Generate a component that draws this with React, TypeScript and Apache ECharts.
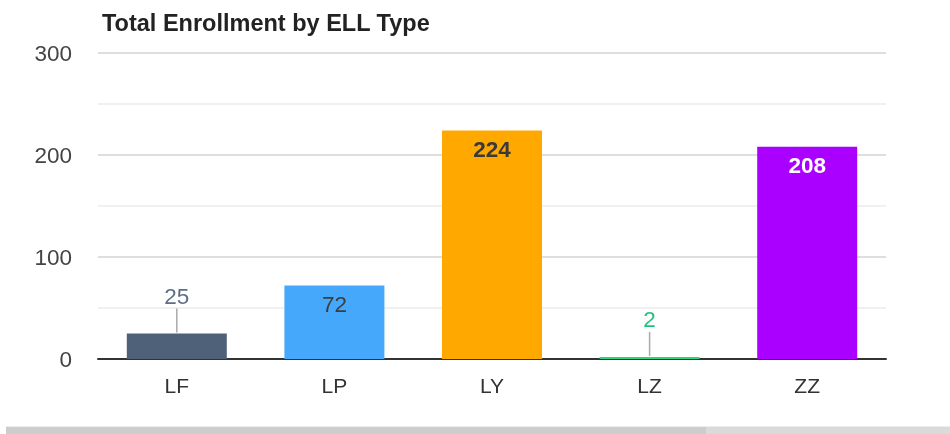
import React, { useEffect, useRef } from "react";
import * as echarts from "echarts";

const categories = ["LF", "LP", "LY", "LZ", "ZZ"];
const values = [25, 72, 224, 2, 208];
const barColors = ["#4f6178", "#45a8fb", "#ffa800", "#2ed47a", "#aa00ff"];
const labelColors = ["#5f6e84", "#3d3d3d", "#3a3a3a", "#22c27e", "#ffffff"];
const labelBold = [false, false, true, false, true];
const yTicks = [0, 100, 200, 300];
const outsideThreshold = 50;

export default function App() {
  const ref = useRef<HTMLDivElement>(null);
  useEffect(() => {
    if (!ref.current) return;
    const chart = echarts.init(ref.current, undefined, { renderer: "svg" });
    const font = "Liberation Sans, Arial, sans-serif";
    const barData = values.map((v, i) => {
      const outside = v < outsideThreshold;
      return {
        value: v,
        itemStyle: { color: barColors[i] },
        label: {
          show: true,
          position: outside ? "top" : "insideTop",
          distance: outside ? 26 : 7,
          color: labelColors[i],
          fontSize: 22.5,
          fontWeight: labelBold[i] ? "bold" : "normal",
          fontFamily: font,
        },
      };
    });
    const leaderData = values
      .map((v, i) => [i, v])
      .filter((d) => d[1] < outsideThreshold);
    chart.setOption({
      animation: false,
      title: {
        text: "Total Enrollment by ELL Type",
        left: 97,
        top: 6,
        textStyle: { fontSize: 23.5, fontWeight: "bold", color: "#222", fontFamily: font },
      },
      grid: { left: 98, right: 64, top: 53, bottom: 75, containLabel: false },
      xAxis: {
        type: "category",
        data: categories,
        axisLine: { show: true, lineStyle: { color: "#333", width: 2 } },
        axisTick: { show: false },
        axisLabel: { color: "#333", fontSize: 21, margin: 16, fontFamily: font },
      },
      yAxis: {
        type: "value",
        min: yTicks[0],
        max: yTicks[yTicks.length - 1],
        interval: 100,
        axisLine: { show: false },
        axisTick: { show: false },
        axisLabel: { color: "#444", fontSize: 22.5, margin: 26, fontFamily: font },
        splitLine: { show: true, lineStyle: { color: "#dedede", width: 2 } },
        minorTick: { show: false, splitNumber: 2 },
        minorSplitLine: { show: true, lineStyle: { color: "#f0f0f0", width: 2 } },
      },
      series: [
        {
          type: "bar",
          data: barData,
          barWidth: 100,
          z: 2,
        },
        {
          type: "custom",
          data: leaderData,
          z: 3,
          silent: true,
          renderItem: (params: any, api: any) => {
            const p = api.coord([api.value(0), api.value(1)]);
            return {
              type: "line",
              shape: { x1: p[0], y1: p[1] - 1, x2: p[0], y2: p[1] - 25 },
              style: { stroke: "#aaaaaa", lineWidth: 1.5 },
            };
          },
        },
      ],
      graphic: [
        { type: "rect", shape: { x: 6, y: 426, width: 944, height: 1 }, style: { fill: "#ececec" } },
        { type: "rect", shape: { x: 6, y: 427, width: 944, height: 7 }, style: { fill: "#dadada" } },
        { type: "rect", shape: { x: 6, y: 427, width: 700, height: 7 }, style: { fill: "#cdcdcd" } },
      ],
    });
    return () => chart.dispose();
  }, []);
  return (
    <div
      ref={ref}
      style={{ position: "fixed", left: 0, top: 0, width: 950, height: 434 }}
    />
  );
}
